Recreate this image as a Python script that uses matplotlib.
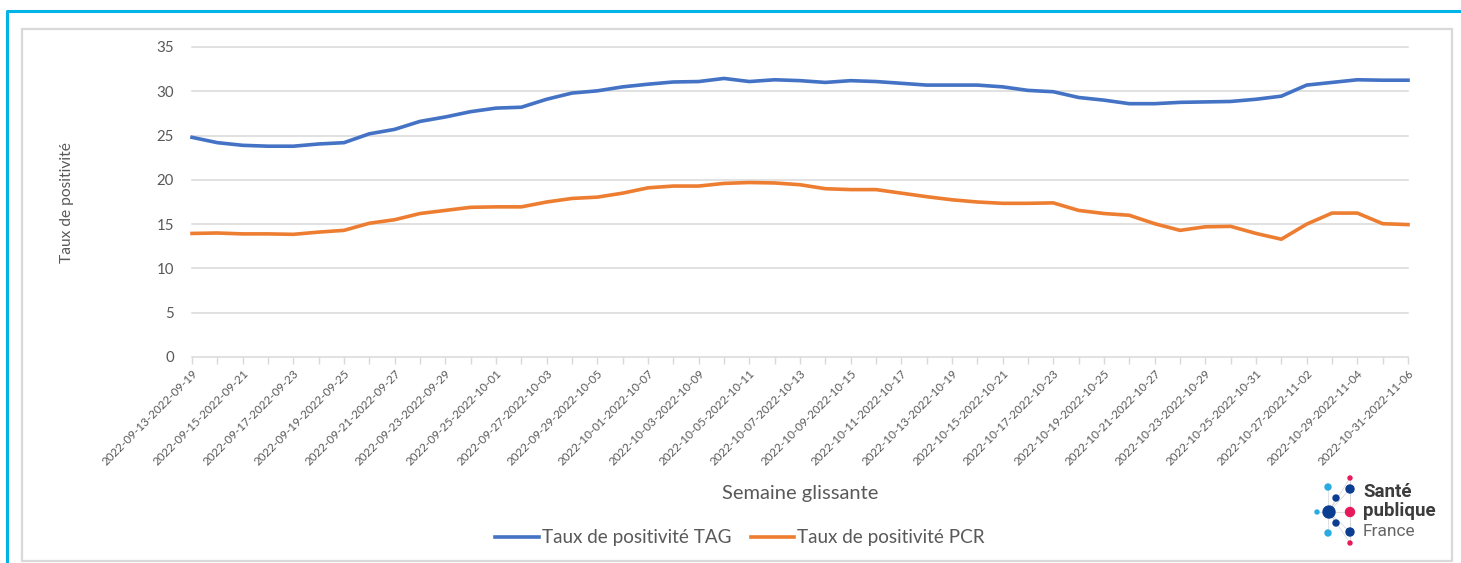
import matplotlib.pyplot as plt
import matplotlib.lines as mlines
import matplotlib.patches as mpatches
import numpy as np
import pandas as pd

# Semaine glissante : début de fenêtre (jour par jour), fin = début + 6 jours
start_dates = pd.date_range("2022-09-13", "2022-10-31", freq="D")
week_labels = [f"{d:%Y-%m-%d}-{(d + pd.Timedelta(days=6)):%Y-%m-%d}" for d in start_dates]

# Taux de positivité TAG (%)
tag = [24.8, 24.2, 23.9, 23.8, 23.8, 24.05, 24.2, 25.2, 25.7, 26.6,
       27.1, 27.7, 28.1, 28.2, 29.1, 29.8, 30.05, 30.5, 30.8, 31.05,
       31.1, 31.45, 31.1, 31.3, 31.2, 31.0, 31.2, 31.1, 30.9, 30.7,
       30.7, 30.7, 30.5, 30.1, 29.95, 29.3, 29.0, 28.6, 28.6, 28.75,
       28.8, 28.85, 29.1, 29.45, 30.7, 31.0, 31.3, 31.25, 31.25]

# Taux de positivité PCR (%)
pcr = [13.95, 14.0, 13.9, 13.9, 13.85, 14.1, 14.3, 15.1, 15.5, 16.2,
       16.55, 16.9, 16.95, 16.95, 17.5, 17.9, 18.05, 18.5, 19.1, 19.3,
       19.3, 19.6, 19.7, 19.65, 19.45, 19.0, 18.9, 18.9, 18.5, 18.1,
       17.75, 17.5, 17.35, 17.35, 17.4, 16.55, 16.2, 16.0, 15.05, 14.3,
       14.7, 14.75, 13.95, 13.3, 15.0, 16.25, 16.25, 15.05, 14.95]

W, H = 1461, 563
FONT = ["Lato", "DejaVu Sans"]
TXT = "#595959"
GRID = "#D9D9D9"

plt.rcParams["font.family"] = FONT

fig = plt.figure(figsize=(W / 100, H / 100), dpi=100)
fig.patch.set_facecolor("white")

# cadres : bord bleu du document et bord gris du graphique
fig.add_artist(mlines.Line2D([7 / W, 7 / W, 1], [0, 1 - 11 / H, 1 - 11 / H],
                             color="#00B4E6", lw=2.2, transform=fig.transFigure))
fig.add_artist(mpatches.Rectangle((22 / W, 1 - 561 / H), (1452 - 22) / W, (561 - 29) / H,
                                  fill=False, ec=GRID, lw=1.6, transform=fig.transFigure))

ax = fig.add_axes([192 / W, 1 - 357 / H, (1408 - 192) / W, (357 - 47) / H])
x = np.arange(len(week_labels))

for v in range(0, 40, 5):
    ax.axhline(v, color=GRID, lw=1.1, zorder=1, clip_on=False)

ax.plot(x, tag, color="#4472C4", lw=2.6, label="Taux de positivité TAG",
        solid_joinstyle="round", zorder=3, clip_on=False)
ax.plot(x, pcr, color="#ED7D31", lw=2.6, label="Taux de positivité PCR",
        solid_joinstyle="round", zorder=3, clip_on=False)

ax.set_xlim(0, len(x) - 1)
ax.set_ylim(0, 35)
ax.set_yticks(range(0, 40, 5))
for s in ax.spines.values():
    s.set_visible(False)

ax.set_xticks(x, minor=True)
ax.set_xticks(x[::2])
ax.set_xticklabels(week_labels[::2], rotation=45, ha="right", rotation_mode="anchor",
                   fontsize=8.4, color=TXT)
ax.tick_params(axis="x", which="both", length=5, width=1, color=GRID, pad=3)
ax.tick_params(axis="y", length=0, pad=13, labelsize=10.8, labelcolor=TXT)

fig.text(67 / W, 1 - 203 / H, "Taux de positivité", rotation=90, ha="center", va="center",
         fontsize=11.2, color=TXT)
fig.text(800 / W, 1 - 494 / H, "Semaine glissante", ha="center", va="center",
         fontsize=14.5, color=TXT)

fig.legend(loc="center", bbox_to_anchor=(740 / W, 1 - 538 / H), ncol=2, frameon=False,
           fontsize=13.6, handlelength=2.3, handletextpad=0.15, columnspacing=1.05,
           labelcolor=TXT)

# logo Santé publique France
navy, cyan, pink = "#0B3D91", "#29ABE2", "#E6195A"
hub = (1329, 512)
dots = [(1350, 478, 2, pink), (1350, 489, 4, navy), (1328, 487, 3, cyan),
        (1336, 498, 3, navy), (1317, 512, 2, cyan), (1329, 512, 6, navy),
        (1350, 512, 4.5, pink), (1336, 523, 3, navy), (1328, 533, 3, cyan),
        (1350, 532, 4, navy), (1350, 543, 2, pink)]
fig.add_artist(mlines.Line2D([1350 / W, 1350 / W], [1 - 478 / H, 1 - 543 / H],
                             color="#C8C8C8", lw=0.5, transform=fig.transFigure))
for px, py, r, c in dots:
    if (px, py) != hub:
        fig.add_artist(mlines.Line2D([hub[0] / W, px / W], [1 - hub[1] / H, 1 - py / H],
                                     color="#C8C8C8", lw=0.4, transform=fig.transFigure,
                                     zorder=1))
for px, py, r, c in dots:
    fig.add_artist(mpatches.Ellipse((px / W, 1 - py / H), 2 * r / W, 2 * r / H,
                                    color=c, transform=fig.transFigure, zorder=2))
fig.text(1363 / W, 1 - 492 / H, "Santé", ha="left", va="center", fontsize=13.5,
         fontweight="bold", color="#3C3C3C", family="Roboto")
fig.text(1363 / W, 1 - 511 / H, "publique", ha="left", va="center", fontsize=13.5,
         fontweight="bold", color="#3C3C3C", family="Roboto")
fig.text(1363 / W, 1 - 531 / H, "France", ha="left", va="center", fontsize=12.5,
         color="#666666", family="Roboto")

fig.savefig("out.png", dpi=100)
